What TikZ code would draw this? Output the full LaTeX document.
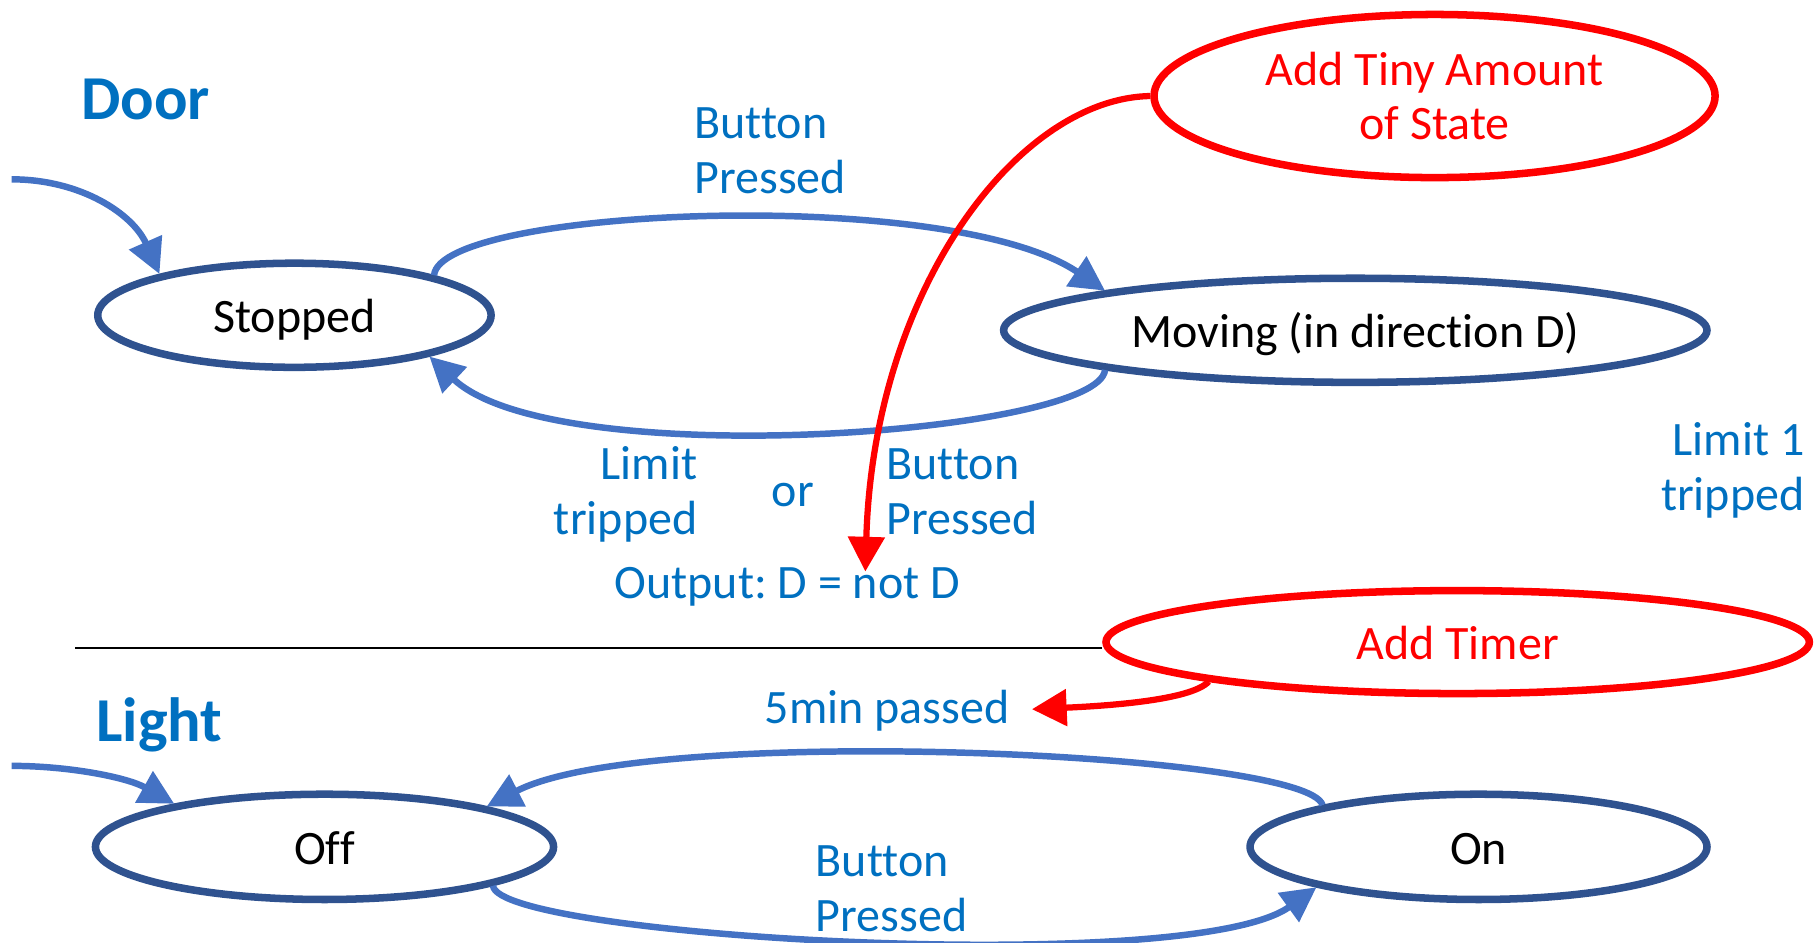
\documentclass[tikz,border=0pt]{standalone}
\usepackage{fontspec}
\setmainfont{Carlito}[Ligatures=NoCommon]
\usetikzlibrary{arrows.meta,shapes.geometric}
\definecolor{stateblue}{HTML}{2F528F}
\definecolor{arrowblue}{HTML}{4472C4}
\definecolor{labelblue}{HTML}{0070C0}
\definecolor{notered}{HTML}{FF0000}
\frenchspacing
\begin{document}
\begin{tikzpicture}[x=1pt,y=-1pt,
  txt/.style={font=\fontsize{41.5}{47.5}\selectfont},
  statebox/.style={ellipse, draw=stateblue, line width=6.5pt, inner sep=0pt,
    text height=36pt, text depth=6pt, txt},
  notebox/.style={ellipse, draw=notered, line width=6.5pt, inner sep=0pt,
    text=notered, align=center, txt},
  lbl/.style={text=labelblue, inner sep=0pt, txt},
  heading/.style={text=labelblue, inner sep=0pt,
    font=\fontsize{54}{60}\selectfont\bfseries},
  trans/.style={draw=arrowblue, line width=5.6pt,
    -{Triangle[length=30pt,width=30pt]}},
  hint/.style={draw=notered, line width=5.4pt,
    -{Triangle[length=30pt,width=31pt]}}]
\useasboundingbox (0,0) rectangle (1568,815);
\clip (0,0) rectangle (1568,815);

% section headings
\node[heading, anchor=base west] (doorhd) at (70,103) {Door};
\node[heading, anchor=base west] (lighthd) at (83,641) {Light};

% door states
\node[statebox, minimum width=340pt, minimum height=90pt] (stopped) at (254.5,272.5) {Stopped};
\node[statebox, minimum width=608pt, minimum height=90pt] (moving) at (1171.5,285.5) {Moving (in direction D)};

% light states
\node[statebox, minimum width=396pt, minimum height=91pt] (off) at (280.5,732) {Off};
\node[statebox, minimum width=395pt, minimum height=91pt] (on) at (1278,732) {On};

% red notes
\node[notebox, minimum width=485pt, minimum height=141pt] (tiny) at (1240,83) {Add Tiny Amount\\of State};
\node[notebox, minimum width=608pt, minimum height=89pt, text height=36pt, text depth=6pt] (timer) at (1260,555) {Add Timer};

% transition labels (multi-line ones are placed by their last baseline)
\node[lbl, align=left, anchor=base west] (bp1) at (600,167) {Button\\Pressed};
\node[lbl, align=right, anchor=base east] (lt) at (603,462) {Limit\\tripped};
\node[lbl, anchor=base west] (orlbl) at (667,438) {or};
\node[lbl, align=left, anchor=base west] (bp2) at (766,462) {Button\\Pressed};
\node[lbl, anchor=base west] (outlbl) at (531,517) {Output: D = not D};
\node[lbl, align=right, anchor=base east] (lt1) at (1560,441) {Limit 1\\tripped};
\node[lbl, anchor=base west] (five) at (661,625) {5min passed};
\node[lbl, align=left, anchor=base west] (bp3) at (705,805) {Button\\Pressed};

% free ends
\coordinate (doorinit) at (10,155);
\coordinate (lightinit) at (10,662);
\coordinate (outtip) at (748,494);
\coordinate (fivetip) at (892,613);
\coordinate (rulestart) at (65,560);

% divider
\draw[line width=1.3pt] (rulestart) -- (rulestart -| timer.west);

% door transitions
\draw[trans] (doorinit) .. controls (70,155) and (115,185) .. (stopped.163);
\draw[trans] (stopped.16) .. controls (380,180) and (820,160) .. (moving.171);
\draw[trans] (moving.-171) .. controls (950,375) and (480,410) .. (stopped.-17);

% light transitions
\draw[trans] (lightinit) .. controls (60,662) and (110,672) .. (off.164);
\draw[trans] (on.165) .. controls (1130,650) and (560,625) .. (off.14);
\draw[trans] (off.-13) .. controls (430,810) and (1030,845) .. (on.194);

% red pointers
\draw[hint] (tiny.180) .. controls (880,85) and (755,250) .. (outtip);
\draw[hint] (timer.-171) .. controls (1030,605) and (960,610) .. (fivetip);
\end{tikzpicture}
\end{document}
